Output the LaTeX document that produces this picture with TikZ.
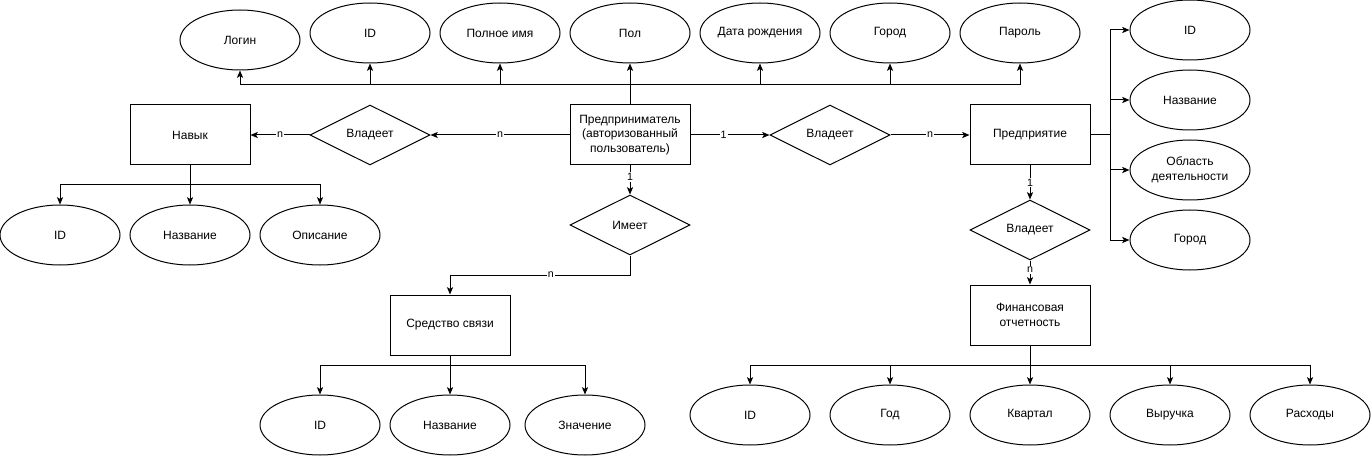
\documentclass[tikz,border=0pt]{standalone}
\usepackage{fontspec}
\setmainfont{Liberation Sans}
\usetikzlibrary{shapes.geometric,arrows.meta}
\begin{document}
\begin{tikzpicture}[x=0.75pt,y=-0.75pt,
  every node/.style={font=\fontsize{9}{11}\selectfont, align=center, line width=0.75pt},
  ent/.style={draw, rectangle, minimum width=90pt, minimum height=45pt, inner sep=0pt},
  attr/.style={draw, ellipse, minimum width=90pt, minimum height=45pt, inner sep=0pt},
  rel/.style={draw, diamond, minimum width=90pt, minimum height=45pt, inner sep=0pt},
  lbl/.style={fill=white, font=\fontsize{8}{9}\selectfont, inner sep=0.8pt},
  conn/.style={line width=0.75pt},
  arr/.style={conn, -{Stealth[length=5.5pt,width=4.6pt,inset=1.3pt]}}
]
\useasboundingbox (0,0) rectangle (1371,456);

% top attributes of entrepreneur
\node[attr] (aLogin) at (240,40) {Логин};
\node[attr] (aID) at (370,33) {ID};
\node[attr] (aName) at (500,33) {Полное имя};
\node[attr] (aSex) at (630,33) {Пол};
\node[attr] (aBirth) at (760,33) {Дата рождения};
\node[attr] (aCity) at (890,33) {Город};
\node[attr] (aPass) at (1020,33) {Пароль};

% entrepreneur
\node[ent] (entr) at (630,135) {Предприниматель\\(авторизованный\\пользователь)};

% skill
\node[rel] (rSkill) at (370,135) {Владеет};
\node[ent] (skill) at (190,135) {Навык};
\node[attr] (sID) at (60,235) {ID};
\node[attr] (sName) at (190,235) {Название};
\node[attr] (sDesc) at (320,235) {Описание};

% firm
\node[rel] (rOwn) at (830,135) {Владеет};
\node[ent] (firm) at (1030,135) {Предприятие};
\node[attr] (fID) at (1190,30) {ID};
\node[attr] (fName) at (1190,100) {Название};
\node[attr] (fArea) at (1190,170) {Область\\деятельности};
\node[attr] (fCity) at (1190,240) {Город};

% finance
\node[rel] (rFin) at (1030,230) {Владеет};
\node[ent] (fin) at (1030,315) {Финансовая\\отчетность};
\node[attr] (qID) at (750,415) {ID};
\node[attr] (qYear) at (890,415) {Год};
\node[attr] (qQuarter) at (1030,415) {Квартал};
\node[attr] (qRev) at (1170,415) {Выручка};
\node[attr] (qExp) at (1310,415) {Расходы};

% communication
\node[rel] (rHas) at (630,225) {Имеет};
\node[ent] (comm) at (450,325) {Средство связи};
\node[attr] (cID) at (320,425) {ID};
\node[attr] (cName) at (450,425) {Название};
\node[attr] (cValue) at (585,425) {Значение};

% coordinates for buses
\coordinate (topbus) at (630,85);
\coordinate (sbus) at (190,185);
\coordinate (fbus) at (1110,135);
\coordinate (qbus) at (1030,365);
\coordinate (hbend) at (630,275);
\coordinate (cbus) at (450,365);

% top connectors
\draw[arr] (entr.north) -- (aSex.south);
\foreach \n in {aLogin,aID,aName,aBirth,aCity,aPass}
  \draw[arr] (topbus) -| (\n.south);

% skill connectors
\draw[arr] (entr.west) -- node[lbl]{n} (rSkill.east);
\draw[arr] (rSkill.west) -- node[lbl]{n} (skill.east);
\draw[conn] (skill.south) -- (sbus);
\foreach \n in {sID,sName,sDesc}
  \draw[arr] (sbus) -| (\n.north);

% firm connectors
\draw[arr] (entr.east) -- node[lbl,pos=0.42]{1} (rOwn.west);
\draw[arr] (rOwn.east) -- node[lbl]{n} (firm.west);
\draw[conn] (firm.east) -- (fbus);
\foreach \n in {fID,fName,fArea,fCity}
  \draw[arr] (fbus) |- (\n.west);

% finance connectors
\draw[arr] (firm.south) -- node[lbl]{1} (rFin.north);
\draw[arr] (rFin.south) -- node[lbl,pos=0.4]{n} (fin.north);
\draw[conn] (fin.south) -- (qbus);
\foreach \n in {qID,qYear,qQuarter,qRev,qExp}
  \draw[arr] (qbus) -| (\n.north);

% communication connectors
\draw[arr] (entr.south) -- node[lbl,pos=0.4]{1} (rHas.north);
\draw[arr] (rHas.south) -- (hbend) -| node[lbl,pos=0.22]{n} (comm.north);
\draw[conn] (comm.south) -- (cbus);
\foreach \n in {cID,cName,cValue}
  \draw[arr] (cbus) -| (\n.north);
\end{tikzpicture}
\end{document}
